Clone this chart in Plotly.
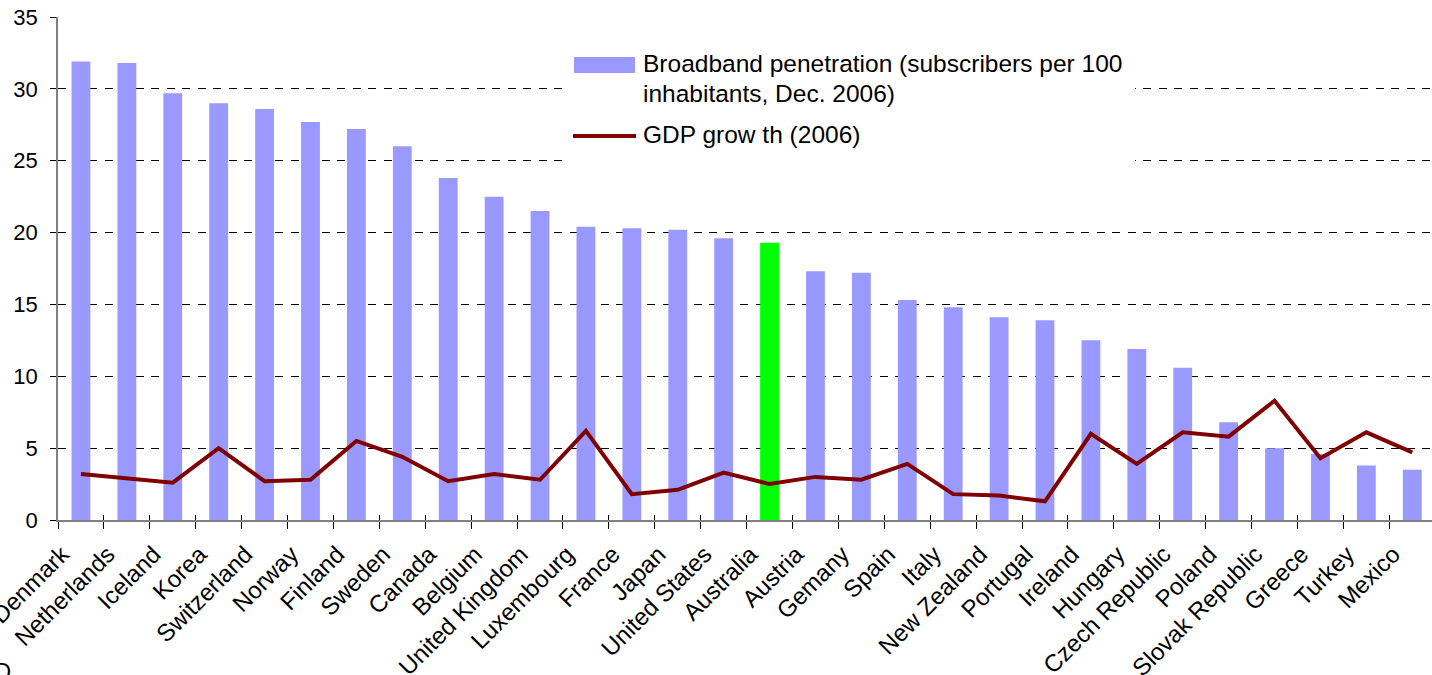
import plotly.graph_objects as go

# OECD broadband penetration vs GDP growth, 2006
countries = [
    "Denmark", "Netherlands", "Iceland", "Korea", "Switzerland", "Norway",
    "Finland", "Sweden", "Canada", "Belgium", "United Kingdom", "Luxembourg",
    "France", "Japan", "United States", "Australia", "Austria", "Gemany",
    "Spain", "Italy", "New Zealand", "Portugal", "Ireland", "Hungary",
    "Czech Republic", "Poland", "Slovak Republic", "Greece", "Turkey", "Mexico",
]
broadband = [
    31.9, 31.8, 29.7, 29.0, 28.6, 27.7, 27.2, 26.0, 23.8, 22.5, 21.5, 20.4,
    20.3, 20.2, 19.6, 19.3, 17.3, 17.2, 15.3, 14.8, 14.1, 13.9, 12.5, 11.9,
    10.6, 6.8, 5.0, 4.6, 3.8, 3.5,
]
gdp_growth = [
    3.2, 2.9, 2.6, 5.0, 2.7, 2.8, 5.5, 4.4, 2.7, 3.2, 2.8, 6.2,
    1.8, 2.1, 3.3, 2.5, 3.0, 2.8, 3.9, 1.8, 1.7, 1.3, 6.0, 3.9,
    6.1, 5.8, 8.3, 4.3, 6.1, 4.7,
]
y_ticks = [0, 5, 10, 15, 20, 25, 30, 35]

bar_name = "Broadband penetration (subscribers per 100<br>inhabitants, Dec. 2006)"
line_name = "GDP grow th (2006)"

BAR_COLOR = "#9999FF"
HIGHLIGHT = "#00FF00"
LINE_COLOR = "#800000"
FONT = "Arial, Liberation Sans, sans-serif"

W, H = 1432, 675
ML, MR, MT, MB = 58, 0, 17, 155
PW, PH = W - ML - MR, H - MT - MB


def px(xp):
    return (xp - ML) / PW


def py(yp):
    return (H - MB - yp) / PH


bar_colors = [HIGHLIGHT if c == "Australia" else BAR_COLOR for c in countries]
x_range = [-0.5, 29.43]

fig = go.Figure()
fig.add_trace(go.Bar(
    x=countries, y=broadband, name=bar_name,
    marker=dict(color=bar_colors, line=dict(width=0)),
))
fig.add_trace(go.Scatter(
    x=countries, y=gdp_growth, name=line_name, mode="lines",
    line=dict(color=LINE_COLOR, width=4),
))
# carrier trace for the inner half of the category ticks
fig.add_trace(go.Scatter(
    x=countries, y=[None] * len(countries), xaxis="x2",
    mode="markers", hoverinfo="skip", showlegend=False,
))

# hand-built legend box
shapes = [
    dict(type="rect", xref="paper", yref="paper",
         x0=px(565), x1=px(1135), y0=py(38), y1=py(163),
         fillcolor="white", line=dict(width=0), layer="above"),
    dict(type="rect", xref="paper", yref="paper",
         x0=px(574), x1=px(635), y0=py(57), y1=py(73),
         fillcolor=BAR_COLOR, line=dict(width=0), layer="above"),
    dict(type="line", xref="paper", yref="paper",
         x0=px(573), x1=px(636), y0=py(136), y1=py(136),
         line=dict(color=LINE_COLOR, width=4), layer="above"),
]
legend_lines = [
    ("Broadband penetration (subscribers per 100", 64),
    ("inhabitants, Dec. 2006)", 94),
    (line_name, 134),
]
annotations = [
    dict(text=t, xref="paper", yref="paper", x=px(641), y=py(yc),
         xanchor="left", yanchor="middle", showarrow=False,
         font=dict(family=FONT, size=24.5, color="black"))
    for t, yc in legend_lines
]
annotations.append(dict(
    text="Source: OECD", xref="paper", yref="paper", x=px(13), y=py(657),
    xanchor="right", yanchor="top", showarrow=False,
    font=dict(family=FONT, size=23, color="black"),
))

fig.update_layout(
    width=W, height=H,
    margin=dict(l=ML, r=MR, t=MT, b=MB, pad=0, autoexpand=False),
    paper_bgcolor="white", plot_bgcolor="white",
    showlegend=False, bargap=0.59,
    font=dict(family=FONT, color="black"),
    shapes=shapes, annotations=annotations,
    xaxis=dict(
        type="category", categoryarray=countries, range=x_range,
        automargin=False,
        tickangle=-45, ticks="outside", tickson="boundaries", ticklen=7,
        tickcolor="black", tickwidth=1,
        ticklabelshift=-19, ticklabelstandoff=9,
        showline=True, linecolor="#808080", linewidth=1.5,
        showgrid=False, zeroline=False,
        tickfont=dict(family=FONT, size=24, color="black"),
    ),
    xaxis2=dict(
        type="category", categoryarray=countries, range=x_range,
        overlaying="x", anchor="y", side="bottom", automargin=False,
        ticks="inside", tickson="boundaries", ticklen=5,
        tickcolor="black", tickwidth=1,
        showticklabels=False, showgrid=False, showline=False, zeroline=False,
    ),
    yaxis=dict(
        range=[0, 35], tickvals=y_ticks, automargin=False,
        ticks="outside", ticklen=6, tickcolor="black", tickwidth=1,
        showline=True, linecolor="#808080", linewidth=1.5,
        showgrid=True, gridcolor="black", gridwidth=1, griddash="8px,7.5px",
        zeroline=False, ticklabelstandoff=8,
        tickfont=dict(family=FONT, size=22, color="black"),
    ),
)

fig.write_html("out.html")
